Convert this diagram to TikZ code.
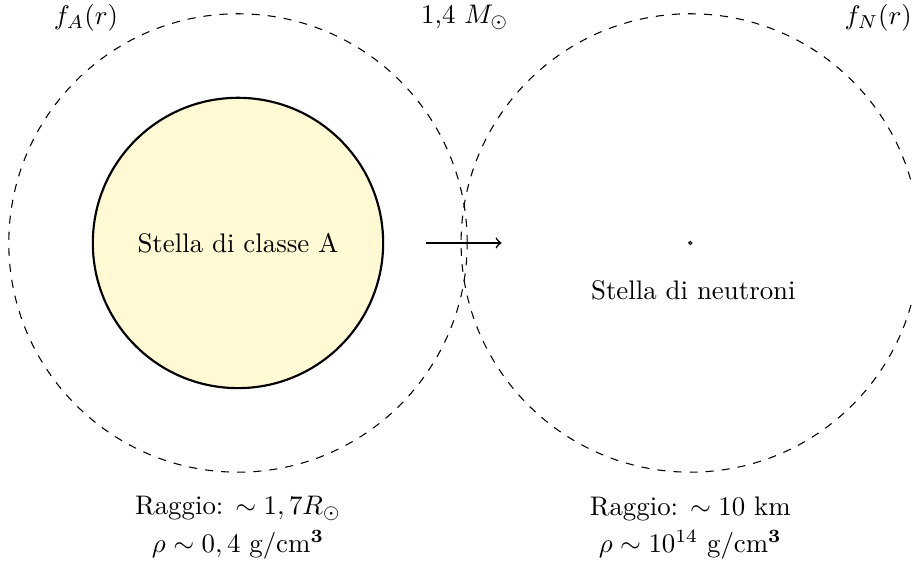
\documentclass[tikz,border=0pt]{standalone}
\begin{document}
\begin{tikzpicture}[
  outer/.style={draw, dashed, thin},
  lbl/.style={inner sep=0pt, align=center}
]
\definecolor{starfill}{RGB}{255,249,212}
\useasboundingbox (-3.115,-4.267) rectangle (8.822,3.18);
\begin{scope}
\clip (-3.115,-4.267) rectangle (8.822,3.18);
\node[outer, circle, minimum size=6cm, inner sep=0pt] (outA) at (0,0) {};
\node[outer, circle, minimum size=6cm, inner sep=0pt] (outN) at (5.92,0) {};
\end{scope}
\node[draw, thick, circle, fill=starfill, minimum size=3.8cm, inner sep=0pt] (starA) at (0,0) {Stella di classe A};
\node[draw, circle, inner sep=0pt, minimum size=0.04cm] (starN) at (5.92,0) {};
\node[lbl] (nameN) at (5.96,-0.62) {Stella di neutroni};
\coordinate (arrS) at (2.46,0);
\coordinate (arrE) at (3.45,0);
\draw[->, semithick] (arrS) -- (arrE);
\node (fA) at (-1.99,2.95) {$f_A(r)$};
\node (mass) at (2.97,2.95) {1,4 $M_\odot$};
\node (fN) at (8.38,2.95) {$f_N(r)$};
\node[lbl] (radA) at (0,-3.73) {Raggio: $\sim 1,7 R_\odot$\\[2pt] $\rho \sim 0,4$ g/cm$^\mathbf{3}$};
\node[lbl] (radN) at (5.92,-3.73) {Raggio: $\sim 10$ km\\[2pt] $\rho \sim 10^{14}$ g/cm$^\mathbf{3}$};
\end{tikzpicture}
\end{document}
